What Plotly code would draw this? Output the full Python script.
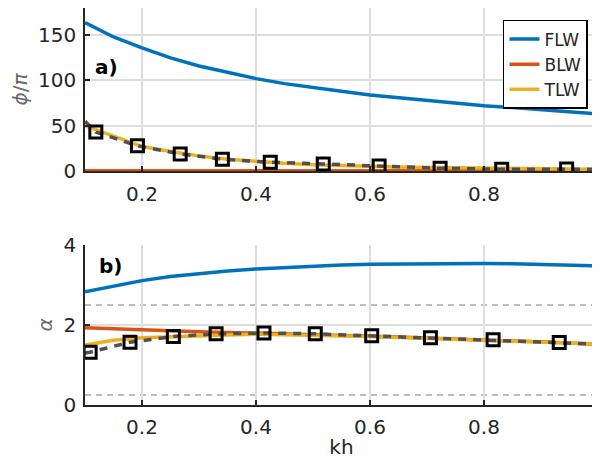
import plotly.graph_objects as go

# ---------------- data ----------------
kh = [0.10, 0.15, 0.20, 0.25, 0.30, 0.35, 0.40, 0.45, 0.50, 0.55,
      0.60, 0.65, 0.70, 0.75, 0.80, 0.85, 0.90, 0.95, 1.00]

# panel a) phi/pi
phi_flw = [164, 148, 136, 125, 116, 109, 102, 96.5, 92, 88,
           84, 81, 78, 75, 72, 70, 67.5, 65, 63]
phi_blw = [0.3] * len(kh)
phi_tlw = [50, 39, 27, 21.5, 16.7, 13, 10.4, 8.5, 7, 6,
           5, 4.5, 4, 3.6, 3, 2.5, 2.1, 1.9, 1.8]
phi_ref_x = [0.10, 0.119, 0.192, 0.267, 0.341, 0.425, 0.518, 0.616, 0.723, 0.831, 0.945, 1.00]
phi_ref_y = [55, 43, 27.8, 18.9, 13, 9.7, 7.8, 5.6, 3.0, 1.9, 2.2, 2.0]
phi_mk_x = [0.119, 0.192, 0.267, 0.341, 0.425, 0.518, 0.616, 0.723, 0.831, 0.945]
phi_mk_y = [43, 27.8, 18.9, 13, 9.7, 7.8, 5.6, 3.0, 1.9, 2.2]

# panel b) alpha
al_flw = [2.83, 2.98, 3.11, 3.21, 3.29, 3.35, 3.40, 3.44, 3.47, 3.50,
          3.52, 3.53, 3.54, 3.54, 3.54, 3.53, 3.52, 3.50, 3.48]
al_blw = [1.93, 1.90, 1.875, 1.85, 1.83, 1.815, 1.80, 1.78, 1.76, 1.74,
          1.72, 1.70, 1.67, 1.65, 1.62, 1.60, 1.58, 1.55, 1.52]
al_tlw = [1.50, 1.62, 1.68, 1.71, 1.73, 1.75, 1.77, 1.76, 1.75, 1.73,
          1.71, 1.69, 1.67, 1.645, 1.62, 1.60, 1.58, 1.55, 1.52]
al_ref_x = [0.10, 0.109, 0.179, 0.255, 0.330, 0.414, 0.504, 0.603, 0.706, 0.816, 0.932, 1.00]
al_ref_y = [1.30, 1.32, 1.57, 1.71, 1.78, 1.80, 1.78, 1.73, 1.68, 1.63, 1.56, 1.52]
al_mk_x = [0.109, 0.179, 0.255, 0.330, 0.414, 0.504, 0.603, 0.706, 0.816, 0.932]
al_mk_y = [1.32, 1.57, 1.71, 1.78, 1.80, 1.78, 1.73, 1.68, 1.63, 1.56]
al_bounds = [2.5, 0.25]

x_ticks = [0.2, 0.4, 0.6, 0.8, 1.0]
x_ticktext = ["0.2", "0.4", "0.6", "0.8", "1"]
phi_ticks = [0, 50, 100, 150]
al_ticks = [0, 2, 4]

# ---------------- style ----------------
C_FLW = "#0072BD"
C_BLW = "#D95319"
C_TLW = "#EDB120"
C_REF = "#505050"
FONT = "DejaVu Sans"
TXT = "#262626"
FS = 20

fig = go.Figure()

def add_panel(xa, ya, flw, blw, tlw, rx, ry, mx, my, legend):
    fig.add_trace(go.Scatter(x=kh, y=flw, mode="lines", name="FLW",
                             line=dict(color=C_FLW, width=3.5),
                             xaxis=xa, yaxis=ya, showlegend=legend))
    fig.add_trace(go.Scatter(x=kh, y=blw, mode="lines", name="BLW",
                             line=dict(color=C_BLW, width=3.5),
                             xaxis=xa, yaxis=ya, showlegend=legend))
    fig.add_trace(go.Scatter(x=kh, y=tlw, mode="lines", name="TLW",
                             line=dict(color=C_TLW, width=3.5),
                             xaxis=xa, yaxis=ya, showlegend=legend))
    fig.add_trace(go.Scatter(x=rx, y=ry, mode="lines",
                             line=dict(color=C_REF, width=3.5, dash="8px,7px"),
                             xaxis=xa, yaxis=ya, showlegend=False))
    fig.add_trace(go.Scatter(x=mx, y=my, mode="markers",
                             marker=dict(symbol="square-open", size=12, color="black",
                                         line=dict(color="black", width=3)),
                             xaxis=xa, yaxis=ya, showlegend=False))

add_panel("x", "y", phi_flw, phi_blw, phi_tlw, phi_ref_x, phi_ref_y, phi_mk_x, phi_mk_y, True)
add_panel("x2", "y2", al_flw, al_blw, al_tlw, al_ref_x, al_ref_y, al_mk_x, al_mk_y, False)

for b in al_bounds:
    fig.add_shape(type="line", xref="x2 domain", yref="y2", x0=0, x1=1, y0=b, y1=b,
                  line=dict(color="#a8a8a8", width=1.5, dash="6px,5px"), layer="below")

axis_common = dict(
    showline=True, linecolor=TXT, linewidth=1.5,
    ticks="inside", ticklen=5, tickwidth=1.5, tickcolor=TXT,
    showgrid=True, gridcolor="#dedede", gridwidth=1.5,
    zeroline=False, automargin=False, ticklabeloverflow="allow",
    tickfont=dict(family=FONT, size=FS, color=TXT),
)

# the page body adds an 8px offset, so the figure is 592x458 with adjusted margins
fig.update_layout(
    width=592, height=458,
    margin=dict(l=77, r=2, t=0, b=61),
    paper_bgcolor="white", plot_bgcolor="white",
    font=dict(family=FONT, size=FS, color=TXT),
    xaxis=dict(domain=[0, 1], anchor="y", range=[0.1, 1.0],
               tickvals=x_ticks, ticktext=x_ticktext, ticklabelstandoff=4, **axis_common),
    yaxis=dict(domain=[0.5894, 1], anchor="x", range=[0, 180],
               tickvals=phi_ticks, ticklabelstandoff=3,
               title=dict(text="<i>ϕ</i>/<i>π</i>", font=dict(family=FONT, size=FS, color="#6a6a6a"), standoff=12),
               **axis_common),
    xaxis2=dict(domain=[0, 1], anchor="y2", range=[0.1, 1.0],
                tickvals=x_ticks, ticktext=x_ticktext, ticklabelstandoff=3,
                title=dict(text="kh", font=dict(family=FONT, size=FS, color=TXT), standoff=2),
                **axis_common),
    yaxis2=dict(domain=[0, 0.403], anchor="x2", range=[0, 4],
                tickvals=al_ticks, ticklabelstandoff=3,
                title=dict(text="<i>α</i>", font=dict(family=FONT, size=FS, color="#6a6a6a"), standoff=6),
                **axis_common),
    legend=dict(x=0.9805, y=0.9698, xanchor="right", yanchor="top",
                bgcolor="white", bordercolor="black", borderwidth=1.5,
                font=dict(family=FONT, size=17, color=TXT),
                itemwidth=30, tracegroupgap=0),
    annotations=[
        dict(text="<b>a)</b>", xref="x domain", yref="y domain", x=0.0156, y=0.641,
             xanchor="left", yanchor="middle", showarrow=False,
             font=dict(family=FONT, size=20, color="black")),
        dict(text="<b>b)</b>", xref="x2 domain", yref="y2 domain", x=0.0234, y=0.866,
             xanchor="left", yanchor="middle", showarrow=False,
             font=dict(family=FONT, size=20, color="black")),
    ],
)

fig.write_html("out.html")
